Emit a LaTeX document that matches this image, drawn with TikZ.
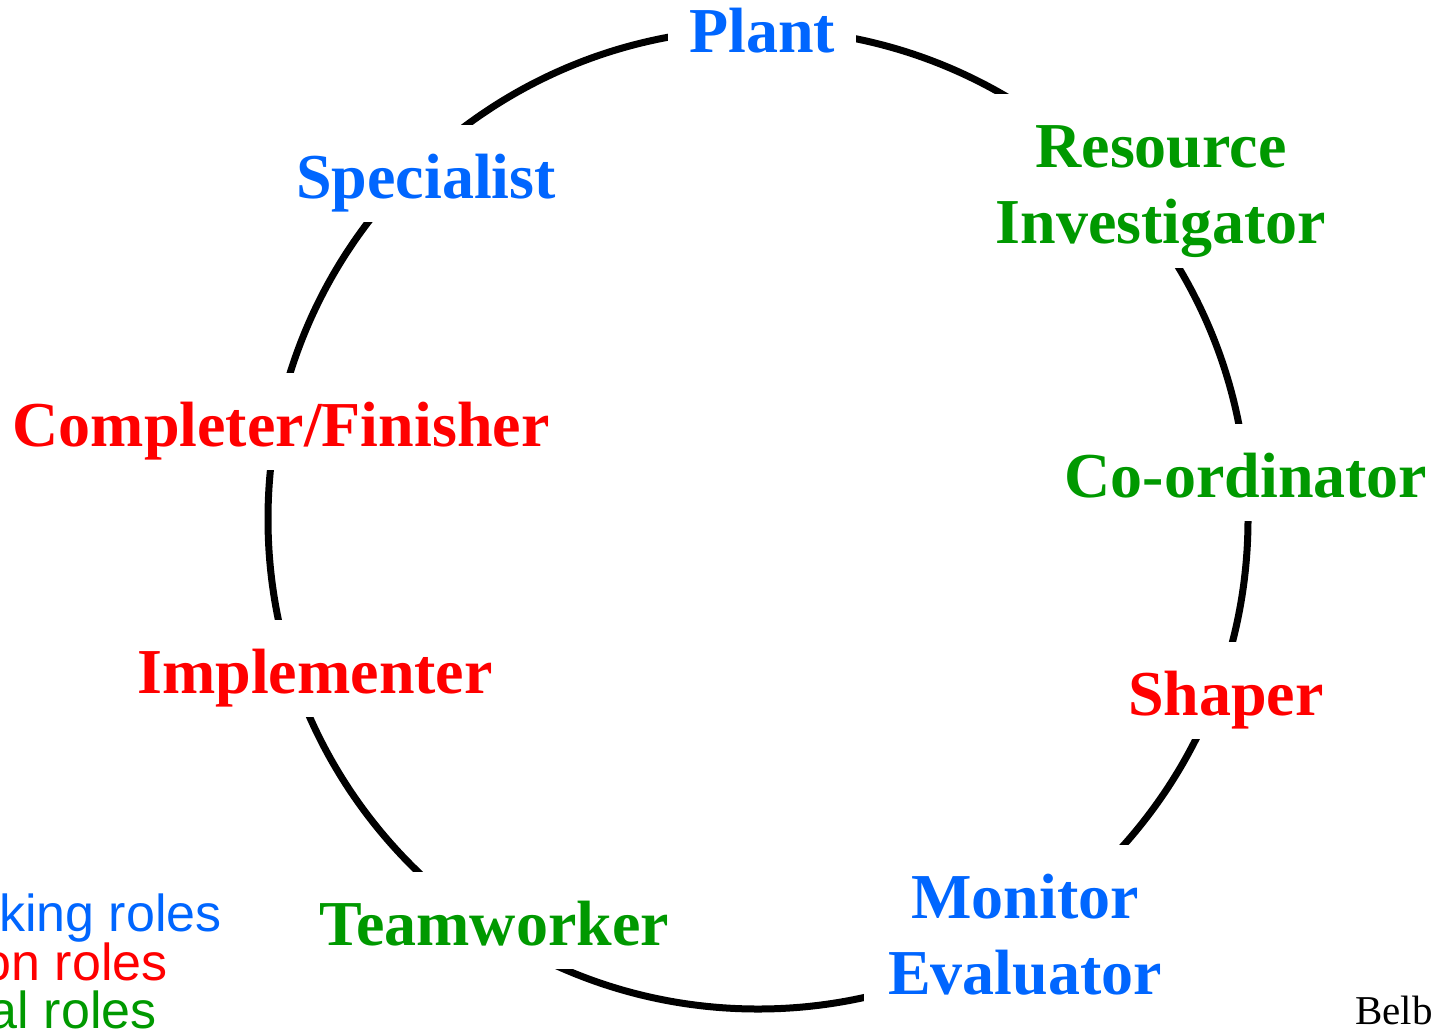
\documentclass[tikz,border=0pt]{standalone}
\usepackage{fontspec}
\setmainfont{Liberation Serif}
\setsansfont{Liberation Sans}
\definecolor{thinkblue}{HTML}{0066FF}
\definecolor{actred}{HTML}{FF0000}
\definecolor{socgreen}{HTML}{009900}
\begin{document}
\begin{tikzpicture}[x=0.5pt,y=-0.5pt,
  ringline/.style={draw=black, line width=3.5pt},
  role/.style={fill=white, inner xsep=10.5pt, inner ysep=0pt, anchor=base,
    text height=36.5pt, text depth=12pt,
    font=\bfseries\fontsize{32pt}{38pt}\selectfont},
  roletwo/.style={role, align=center, text depth=50.5pt},
  legend/.style={inner sep=0pt, anchor=base east, font=\sffamily\fontsize{26pt}{24pt}\selectfont},
  credit/.style={inner sep=0pt, anchor=base west, font=\fontsize{20.5pt}{24pt}\selectfont}]
\useasboundingbox (0,0) rectangle (1433,1033);
\fill[white] (0,0) rectangle (1433,1033);
\coordinate (c) at (758,519);
\draw[ringline] (c) circle[radius=245pt];
% roles
\node[role, text=thinkblue] (plant) at (762,52) {Plant};
\node[roletwo, text=socgreen, text width=168pt] (ri) at (1161,167) {Resource\\Investigator};
\node[role, text=socgreen] (coord) at (1246,497) {Co-ordinator};
\node[role, text=actred] (shaper) at (1226,715) {Shaper};
\node[roletwo, text=thinkblue, text width=140pt] (me) at (1025,918) {Monitor\\Evaluator};
\node[role, text=socgreen] (team) at (494,945) {Teamworker};
\node[role, text=actred] (impl) at (315,693) {Implementer};
\node[role, text=actred] (cf) at (281,446) {Completer/Finisher};
\node[role, text=thinkblue] (spec) at (426,198) {Specialist};
% legend
\node[legend, text=thinkblue] (lthink) at (222,931) {king roles};
\node[legend, text=actred] (lact) at (168,980) {on roles};
\node[legend, text=socgreen] (lsoc) at (157,1028) {al roles};
% credit
\node[credit, text=black] (belb) at (1355,1024) {Belb};
\end{tikzpicture}
\end{document}
